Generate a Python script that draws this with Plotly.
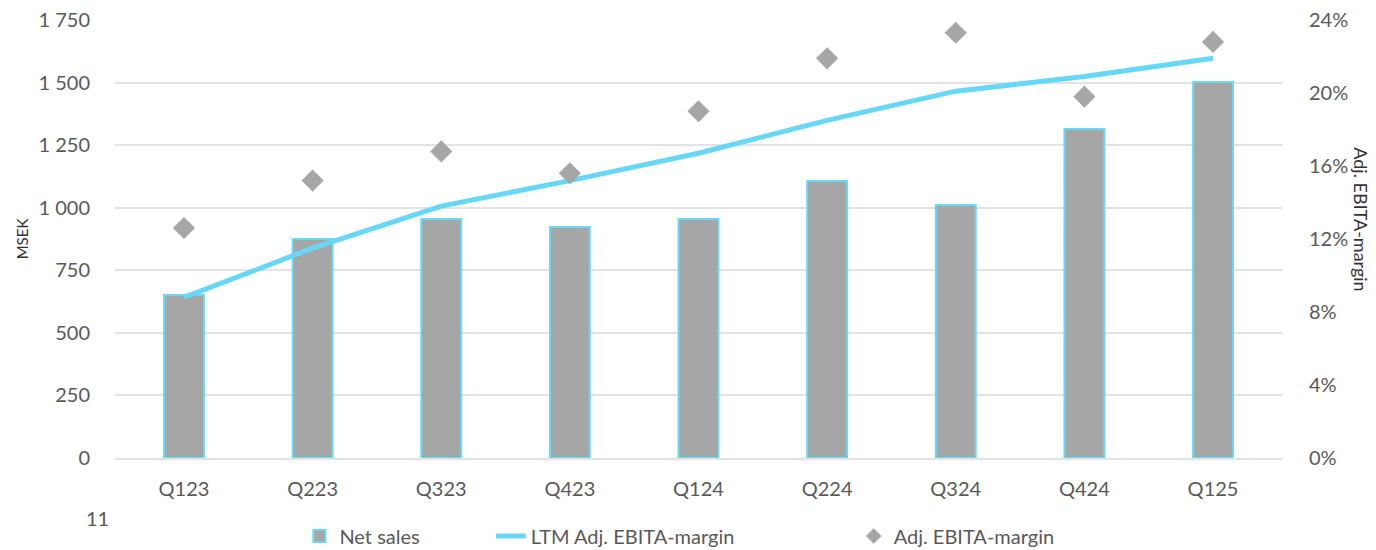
import plotly.graph_objects as go

quarters = ["Q123", "Q223", "Q323", "Q423", "Q124", "Q224", "Q324", "Q424", "Q125"]
net_sales = [651, 875, 955, 923, 955, 1107, 1011, 1314, 1502]
ltm_margin = [8.8, 11.5, 13.8, 15.2, 16.7, 18.5, 20.1, 20.9, 21.9]
adj_margin = [12.6, 15.2, 16.8, 15.6, 19.0, 21.9, 23.3, 19.8, 22.8]

left_ticks = [0, 250, 500, 750, 1000, 1250, 1500, 1750]
left_labels = ["0", "250", "500", "750", "1 000", "1 250", "1 500", "1 750"]
right_ticks = [0, 4, 8, 12, 16, 20, 24]
right_labels = ["0%", "4%", "8%", "12%", "16%", "20%", "24%"]

FONT = "Lato, 'Open Sans', sans-serif"
LEGFONT = "Lato, 'Open Sans', sans-serif"
TXT = "#595959"

fig = go.Figure()
fig.add_trace(go.Bar(
    x=quarters, y=net_sales, name="Net sales",
    marker=dict(color="#A6A6A6", line=dict(color="#66D9F5", width=2)),
    width=0.31, yaxis="y", legend="legend",
))
fig.add_trace(go.Scatter(
    x=quarters, y=ltm_margin, name="LTM Adj. EBITA-margin", mode="lines",
    line=dict(color="#66D7F7", width=5), yaxis="y2", legend="legend2",
))
fig.add_trace(go.Scatter(
    x=quarters, y=adj_margin, name="Adj. EBITA-margin", mode="markers",
    marker=dict(symbol="diamond", color="#A6A6A6", size=17), yaxis="y2", legend="legend3",
))

leg_common = dict(orientation="h", y=-0.178, yanchor="middle", xanchor="left",
                  font=dict(size=20, color=TXT, family=LEGFONT), bgcolor="rgba(0,0,0,0)",
                  borderwidth=0)

fig.update_layout(
    width=1376, height=550,
    margin=dict(l=115, r=94, t=20, b=92, autoexpand=False),
    plot_bgcolor="white", paper_bgcolor="white",
    font=dict(family=FONT, color=TXT, size=20),
    xaxis=dict(showgrid=False, showline=True, linecolor="#E3E3E3", linewidth=2,
               automargin=False,
               ticks="outside", ticklen=12, tickcolor="rgba(0,0,0,0)",
               tickfont=dict(size=20, color=TXT)),
    yaxis=dict(range=[0, 1750], tickvals=left_ticks, ticktext=left_labels,
               showgrid=True, gridcolor="#E3E3E3", gridwidth=2, zeroline=False,
               automargin=False,
               ticks="outside", ticklen=20, tickcolor="rgba(0,0,0,0)",
               tickfont=dict(size=20, color=TXT),
               title=dict(text="MSEK", font=dict(size=15, color="#333333"), standoff=6)),
    yaxis2=dict(range=[0, 24], tickvals=right_ticks, ticktext=right_labels,
                overlaying="y", side="right", showgrid=False, zeroline=False,
                automargin=False,
                ticks="outside", ticklen=22, tickcolor="rgba(0,0,0,0)",
                tickfont=dict(size=20, color=TXT)),
    legend=dict(x=0.158, **leg_common),
    legend2=dict(x=0.322, **leg_common),
    legend3=dict(x=0.633, itemsizing="constant", **leg_common),
    showlegend=True,
)

fig.add_annotation(text="Adj. EBITA-margin", textangle=90, xref="paper", yref="paper",
                   x=1.0, xshift=92, y=0.545, showarrow=False,
                   font=dict(size=18, color="#333333"))
fig.add_annotation(text="11", xref="paper", yref="paper", x=0, xshift=-18,
                   xanchor="center", yanchor="middle",
                   y=-0.138, showarrow=False, font=dict(size=20, color=TXT))

fig.write_html("out.html")
